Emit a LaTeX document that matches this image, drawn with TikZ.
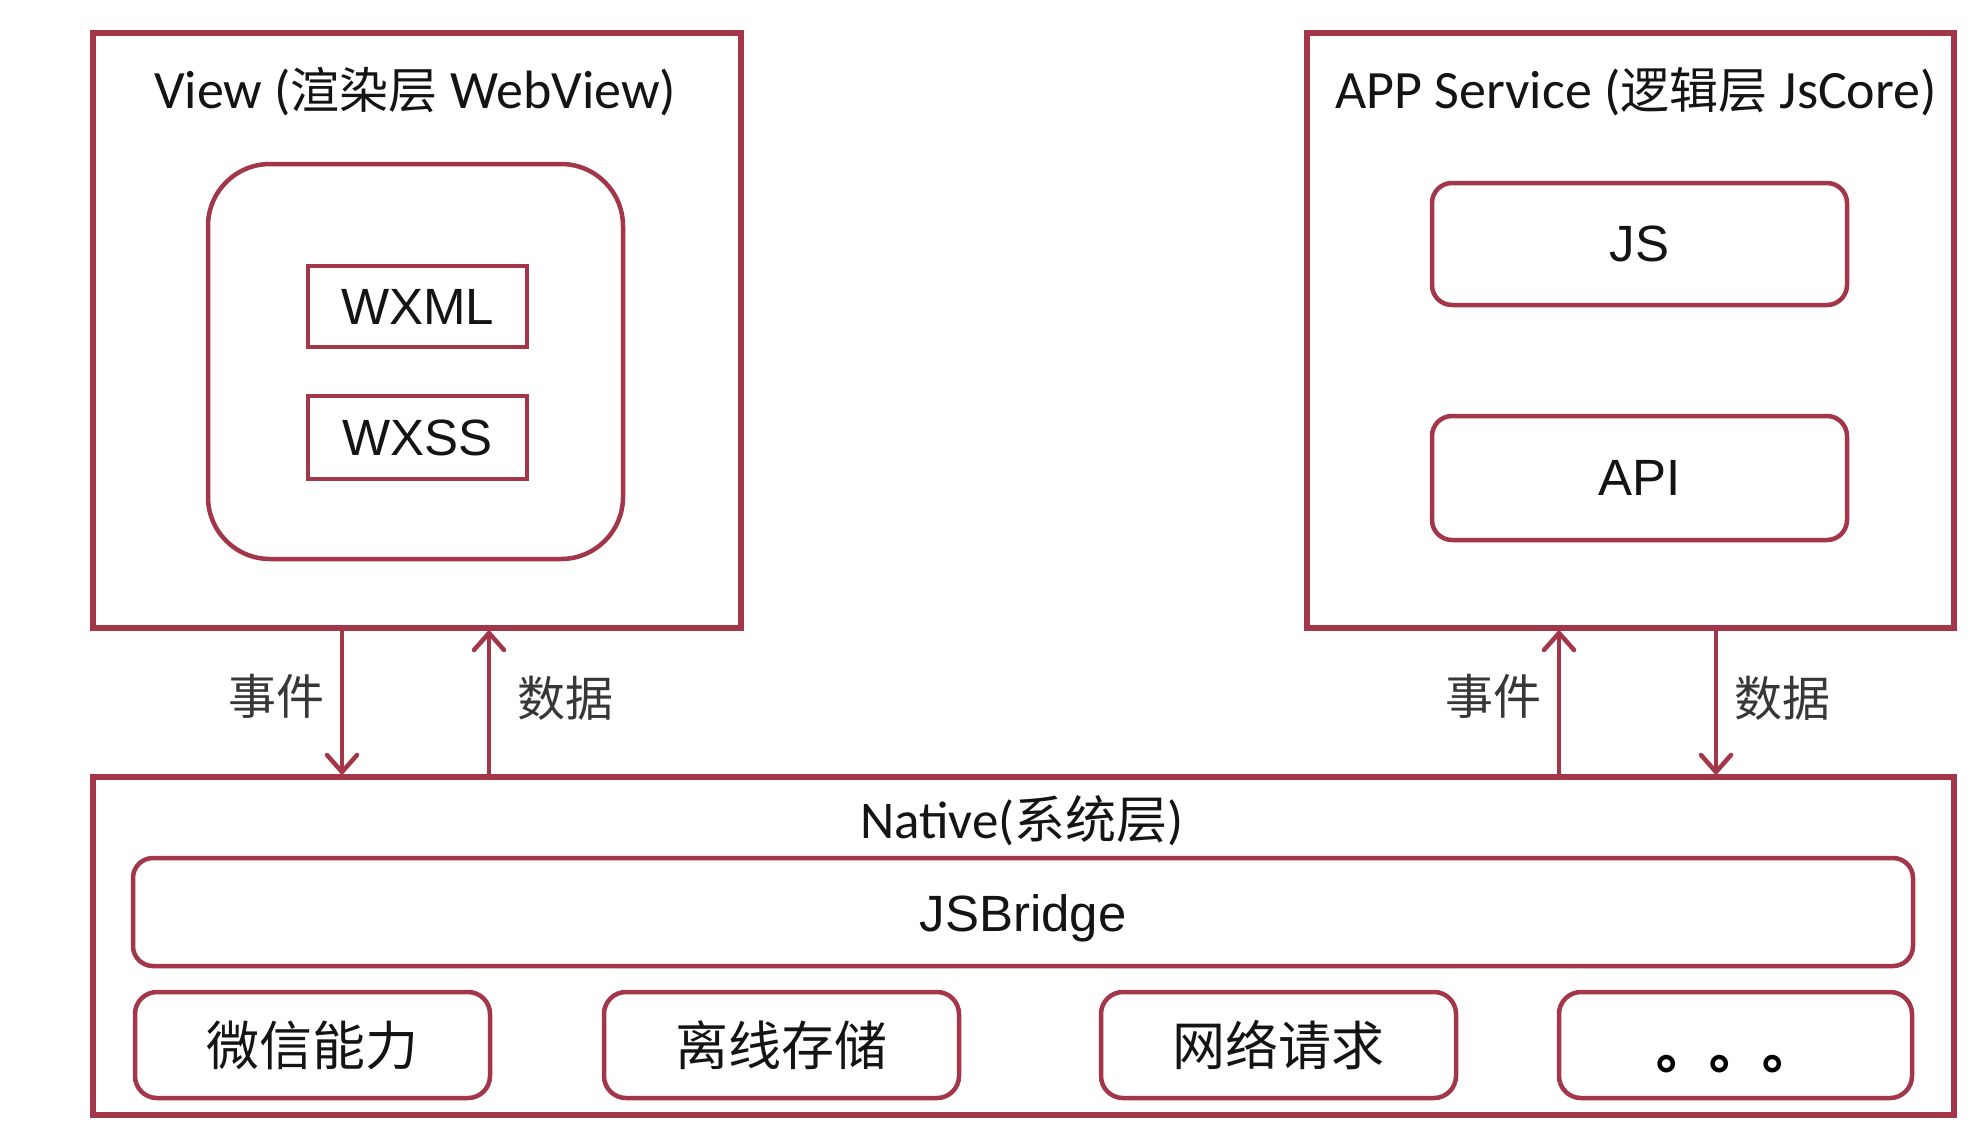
\documentclass[tikz,border=0pt]{standalone}
\usepackage{fontspec}
\setmainfont{Carlito}
\newfontfamily\cjk{Noto Sans CJK SC}
\newfontfamily\arialf{Liberation Sans}
\usetikzlibrary{arrows.meta}
\definecolor{wine}{RGB}{163,54,72}
\definecolor{ink}{RGB}{20,20,20}
\begin{document}
\begin{tikzpicture}[x=1pt,y=-1pt,
  bigbox/.style={draw=wine,line width=5.5pt,inner sep=0pt,rectangle},
  subbox/.style={draw=wine,line width=4.5pt,inner sep=0pt,rectangle,text=ink},
  rbox/.style={subbox,rounded corners=20pt},
  titletext/.style={inner sep=0pt,text=ink,font=\fontsize{54}{64}\selectfont},
  lab/.style={inner sep=0pt,text=ink!85,font=\cjk\fontsize{48}{56}\selectfont},
  arialtext/.style={font=\arialf\fontsize{51}{60}\selectfont},
  cjktext/.style={font=\cjk\fontsize{53}{62}\selectfont},
  arr/.style={draw=wine,line width=4.5pt,-{Straight Barb[length=17pt,width=30pt,round]}}
]
\useasboundingbox (0,0) rectangle (1978,1128);
\fill[white] (0,0) rectangle (1978,1128);

% View box
\node[bigbox,minimum width=648pt,minimum height=595pt] (view) at (417,330.5) {};
\node[titletext] (viewt) at (415,92) {View ({\cjk\fontsize{49}{58}\selectfont 渲染层} WebView)};
\node[subbox,rounded corners=62pt,minimum width=415pt,minimum height=395pt] (inner) at (415.5,361.5) {};
\node[subbox,arialtext,minimum width=219pt,minimum height=81pt] (wxml) at (417.5,306.5) {WXML};
\node[subbox,arialtext,minimum width=219pt,minimum height=83pt] (wxss) at (417.5,437.5) {WXSS};

% APP Service box
\node[bigbox,minimum width=647pt,minimum height=595pt] (app) at (1630.5,330.5) {};
\node[titletext] (appt) at (1636,92) {APP Service ({\cjk\fontsize{49}{58}\selectfont 逻辑层} JsCore)};
\node[rbox,arialtext,minimum width=415pt,minimum height=122pt] (js) at (1639.5,244) {JS};
\node[rbox,arialtext,minimum width=415pt,minimum height=124pt] (api) at (1639.5,478) {API};

% Native box
\node[bigbox,minimum width=1861pt,minimum height=338pt] (native) at (1023.5,946) {};
\node[titletext,font=\fontsize{53}{62}\selectfont] (nativet) at (1022,821) {Native({\cjk\fontsize{51}{60}\selectfont 系统层})};
\node[rbox,arialtext,minimum width=1780pt,minimum height=108pt] (bridge) at (1023,912) {};
\node[arialtext,inner sep=0pt,text=ink] (bridget) at (bridge.center) [yshift=-6pt] {JSBridge};
\node[rbox,cjktext,rounded corners=22pt,minimum width=355pt,minimum height=106pt] (b1) at (312.5,1045) {微信能力};
\node[rbox,cjktext,rounded corners=22pt,minimum width=355pt,minimum height=106pt] (b2) at (781.5,1045) {离线存储};
\node[rbox,cjktext,rounded corners=22pt,minimum width=355pt,minimum height=106pt] (b3) at (1278.5,1045) {网络请求};
\node[rbox,rounded corners=22pt,minimum width=353pt,minimum height=106pt] (b4) at (1735.5,1045) {};
\node[inner sep=0pt,text=black,font=\cjk\bfseries\fontsize{53}{62}\selectfont] (dots) at (b4.center) [yshift=-19pt] {。。。};

% arrow columns
\coordinate (c1) at (342,0);
\coordinate (c2) at (489,0);
\coordinate (c3) at (1559,0);
\coordinate (c4) at (1716,0);

\draw[arr] (view.south -| c1) -- (native.north -| c1);
\draw[arr] (native.north -| c2) -- (view.south -| c2);
\draw[arr] (native.north -| c3) -- (app.south -| c3);
\draw[arr] (app.south -| c4) -- (native.north -| c4);

\node[lab] (l1) at (276,696) {事件};
\node[lab] (l2) at (565,698) {数据};
\node[lab] (l3) at (1493,696) {事件};
\node[lab] (l4) at (1782,698) {数据};
\end{tikzpicture}
\end{document}
